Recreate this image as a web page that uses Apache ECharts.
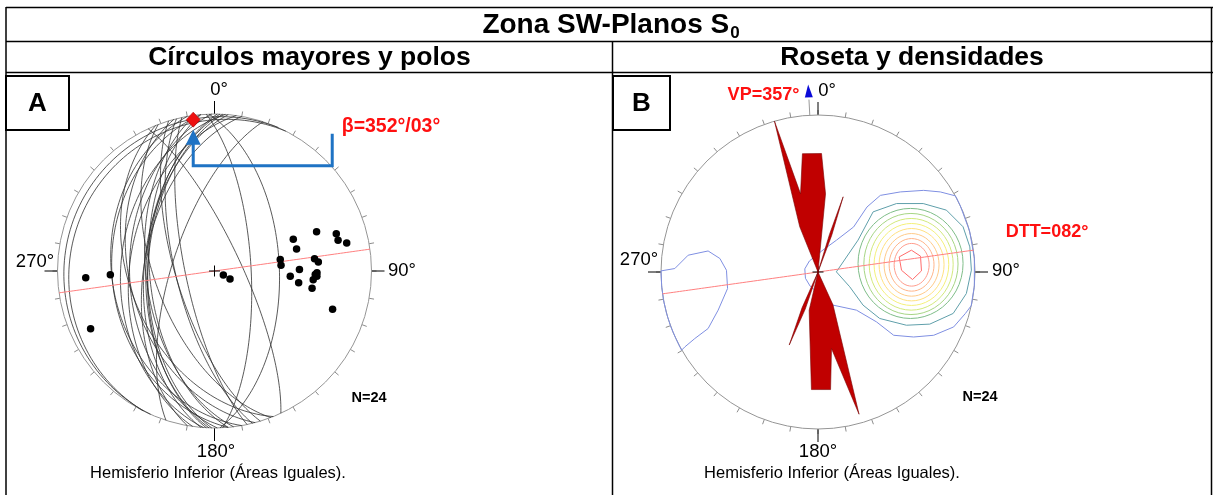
<!DOCTYPE html>
<html><head><meta charset="utf-8">
<script src="https://cdn.jsdelivr.net/npm/echarts@6/dist/echarts.min.js"></script>
<style>html,body{margin:0;padding:0;background:#fff}#c{width:1213px;height:495px}</style>
</head><body><div id="c"></div>
<script>
// ---- Data: S0 planes (dip direction / dip), read from the poles of net A ----
const DIP_DIR = [87, 88, 65, 294, 297, 260, 265, 248, 255, 249, 253, 256, 258, 263, 265, 269, 274, 278, 272, 273, 275, 280, 288, 271];
const DIP     = [71, 56, 76, 5, 9, 35, 35, 45, 45, 59, 70, 70, 75, 54, 56, 45, 40, 45, 54, 55, 53, 53, 68, 55];
const BETA_TREND = 352, BETA_PLUNGE = 3;
const DTT = 82;      // pi-girdle direction
const VP = 357;      // rose preferred direction
// Rose outline (azimuth, length in % of radius)
const ROSE_AZ  = [0, 338, 343.9, 347.4, 352.5, 361.7, 365.5, 0, 17, 18.5, 20.5, 0, 155.5, 163.9, 170, 173.9, 183.2, 193, 0, 199, 201.5, 204, 0];
const ROSE_LEN = [0, 31, 100, 51, 76, 75.5, 50, 0, 25, 50.5, 25, 0, 23, 94.3, 49.5, 75.3, 75, 25, 0, 25, 50, 25, 0];
// Density contours (projection coords, % of radius)
const HEX_X = [51.7, 59.5, 65.3, 65.9, 60.2, 53.2];
const HEX_Y = [9.6, 13.9, 10.1, 0.7, -4.8, 1.1];
const RING_L = [48.5, 45.3, 42.1, 38.9, 35.7, 32.6, 29.2, 25.5];
const RING_R = [70.8, 73.9, 77.1, 80.3, 83.3, 86.1, 89.2, 92.4];
const RING_T = [18.2, 21.3, 24.5, 27.7, 30.9, 34.1, 37.3, 40.5];
const RING_B = [-9.0, -12.2, -15.4, -18.4, -21.3, -24.3, -27.1, -29.6];
const RING_COLORS = ['#ff9c8c','#ffb489','#ffca88','#ffe080','#f4f07a','#d2e97c','#a6d584','#7fbd88'];
const TEAL_X = [11.7, 25.5, 35.1, 50.0, 67.0, 81.8, 92.4, 96.7, 97.7, 94.5, 86.1, 71.2, 56.3, 39.3, 28.7, 20.2];
const TEAL_Y = [0.1, 20.3, 38.3, 43.6, 43.6, 39.4, 28.8, 16.0, 1.2, -13.7, -26.4, -33.2, -33.9, -29.6, -21.1, -9.4];
const BLUE_E_X = [87.5, 77.9, 67.3, 52.4, 39.7, 31.2, 22.7, 11.8, 2.5, -5.5, -8.4, -8, -5, 2, 9.6, 24.5, 37.3, 48.2, 60.9, 73.7, 86.4, 93.8, 97.6, 99.6, 99.6, 96.6, 90.6, 87.5];
const BLUE_E_Y = [48.5, 51.0, 52.0, 51.0, 48.8, 41.4, 28.7, 20.3, 13.5, 7.0, 2.0, -4, -9, -15, -21.1, -24.3, -31.8, -40.3, -41.4, -40.3, -35.0, -26.5, -21.5, -8.7, 8.7, 25.9, 42.3, 48.5];
const BLUE_W_X = [-100, -91.2, -82.7, -70, -62.5, -58.3, -57.6, -63.6, -70, -78.5, -84.8, -86.9, -90.6, -94, -96.6, -98.5, -99.6, -100];
const BLUE_W_Y = [0.7, 2.2, 10.7, 13.4, 8.6, 1.1, -10.5, -24.3, -36, -42.4, -47.7, -49.8, -42.3, -34.2, -25.9, -17.4, -8.7, 0.7];
const TICK_LABELS = ['0°', '90°', '180°', '270°'];

// ---- helpers ----
const D2R = Math.PI / 180;
function proj(trend, plunge) { // lower hemisphere, equal area, % of radius
  const r = 100 * Math.SQRT2 * Math.sin((90 - plunge) / 2 * D2R);
  return [r * Math.sin(trend * D2R), r * Math.cos(trend * D2R)];
}
function polarXY(az, len) { return [len * Math.sin(az * D2R), len * Math.cos(az * D2R)]; }
function greatCircle(dd, dip) {
  const s = (dd - 90) * D2R, d = dip * D2R, a = dd * D2R;
  const S = [Math.sin(s), Math.cos(s), 0];
  const Dv = [Math.cos(d) * Math.sin(a), Math.cos(d) * Math.cos(a), Math.sin(d)];
  const pts = [];
  for (let f = 0; f <= 180; f += 2) {
    const c = Math.cos(f * D2R), sn = Math.sin(f * D2R);
    const v = [c * S[0] + sn * Dv[0], c * S[1] + sn * Dv[1], Math.min(1, c * S[2] + sn * Dv[2])];
    const pl = Math.asin(v[2]) / D2R;
    const tr = Math.atan2(v[0], v[1]) / D2R;
    pts.push(proj(tr, pl));
  }
  return pts;
}
const zip = (xs, ys) => xs.map((x, i) => [x, ys[i]]);

const FONT = '"Liberation Sans", Arial, sans-serif';
const CA = [214.5, 271], CB = [818, 272], RAD = 157;
const HALF = 130 * RAD / 100;

const chart = echarts.init(document.getElementById('c'), null, {renderer: 'canvas'});

function angleAxes(pi) {
  return [
    {polarIndex: pi, type: 'value', min: 0, max: 360, interval: 10, startAngle: 90, clockwise: true,
     axisLine: {show: true, lineStyle: {color: '#959595', width: 1}},
     axisTick: {show: true, length: 5, lineStyle: {color: '#8c8c8c', width: 1}},
     axisLabel: {show: false}, splitLine: {show: false}},
    {polarIndex: pi + 1, type: 'value', min: 0, max: 360, interval: 90, startAngle: 90, clockwise: true,
     axisLine: {show: false},
     axisTick: {show: true, length: 13, lineStyle: {color: '#000', width: 1}},
     axisLabel: {show: false}, splitLine: {show: false}}
  ];
}

const series = [];
// Net A: great circles
DIP_DIR.forEach((dd, i) => {
  series.push({type: 'line', xAxisIndex: 0, yAxisIndex: 0, data: greatCircle(dd, DIP[i]),
    showSymbol: false, silent: true, clip: false, z: 3,
    lineStyle: {color: '#2e2e2e', width: 0.8, opacity: 1}});
});
// pi girdle in A and B
[0, 1].forEach(g => series.push({type: 'line', xAxisIndex: g, yAxisIndex: g, data: greatCircle(DTT + 90, 90),
  showSymbol: false, silent: true, clip: false, z: 4, lineStyle: {color: '#ff7f7f', width: 1}}));
// poles
series.push({type: 'scatter', xAxisIndex: 0, yAxisIndex: 0, symbolSize: 7.5, z: 5, clip: false,
  itemStyle: {color: '#000', opacity: 1}, data: DIP_DIR.map((dd, i) => proj(dd + 180, 90 - DIP[i]))});
// center crosses
[0, 1].forEach(g => series.push({type: 'scatter', xAxisIndex: g, yAxisIndex: g, z: 4,
  symbol: 'path://M0,5L10,5M5,0L5,10', symbolSize: 11,
  itemStyle: {color: 'none', borderColor: '#000', borderWidth: 1, opacity: 1}, data: [[0, 0]]}));
// beta
series.push({type: 'scatter', xAxisIndex: 0, yAxisIndex: 0, symbol: 'diamond', symbolSize: [14, 15], z: 8, clip: false,
  itemStyle: {color: '#ee1111', borderColor: '#a00', borderWidth: 0.6, opacity: 1}, data: [proj(BETA_TREND, BETA_PLUNGE)]});

// Net B: contours
series.push({type: 'custom', xAxisIndex: 1, yAxisIndex: 1, z: 3, silent: true,
  data: RING_L.map((l, i) => [l, RING_R[i], RING_T[i], RING_B[i]]),
  renderItem: (p, api) => {
    const L = api.value(0), R = api.value(1), T = api.value(2), B = api.value(3);
    const cx = (L + R) / 2, cy = (T + B) / 2, a = (R - L) / 2, b = (T - B) / 2;
    const pts = [];
    for (let k = 0; k < 48; k++) { const t = k / 48 * 2 * Math.PI; pts.push(api.coord([cx + a * Math.cos(t), cy + b * Math.sin(t)])); }
    return {type: 'polygon', shape: {points: pts}, style: {fill: 'none', stroke: RING_COLORS[p.dataIndex], lineWidth: 1}};
  }});
const closed = (xs, ys) => { const d = zip(xs, ys); d.push(d[0]); return d; };
series.push({type: 'line', xAxisIndex: 1, yAxisIndex: 1, data: closed(HEX_X, HEX_Y), showSymbol: false, clip: false, z: 3,
  lineStyle: {color: '#ff6b6b', width: 1}});
series.push({type: 'line', xAxisIndex: 1, yAxisIndex: 1, data: closed(TEAL_X, TEAL_Y), showSymbol: false, clip: false, z: 3,
  lineStyle: {color: '#5f9faa', width: 1}});
series.push({type: 'line', xAxisIndex: 1, yAxisIndex: 1, data: zip(BLUE_E_X, BLUE_E_Y), showSymbol: false, clip: false, z: 3,
  lineStyle: {color: '#7f8fe2', width: 1}});
series.push({type: 'line', xAxisIndex: 1, yAxisIndex: 1, data: zip(BLUE_W_X, BLUE_W_Y), showSymbol: false, clip: false, z: 3,
  lineStyle: {color: '#7f8fe2', width: 1}});
// rose
series.push({type: 'custom', xAxisIndex: 1, yAxisIndex: 1, z: 6, silent: true, data: [[0, 0]],
  renderItem: (p, api) => ({type: 'polygon',
    shape: {points: ROSE_AZ.map((az, i) => api.coord(polarXY(az, ROSE_LEN[i])))},
    style: {fill: '#c00000', stroke: '#7a0000', lineWidth: 0.6}})});
// VP arrow
series.push({type: 'line', xAxisIndex: 1, yAxisIndex: 1, data: [polarXY(VP, 100), polarXY(VP, 110)], showSymbol: false, clip: false, z: 6,
  lineStyle: {color: '#999', width: 1}});
series.push({type: 'scatter', xAxisIndex: 1, yAxisIndex: 1, symbol: 'triangle', symbolSize: [8, 13], symbolRotate: 360 - VP, clip: false, z: 7,
  itemStyle: {color: '#0a0ad8', opacity: 1}, data: [polarXY(VP, 115.5)]});

function txt(x, y, text, font, fill, align) {
  return {type: 'text', z: 20, style: {x, y, text, font, fill: fill || '#000', align: align || 'center', verticalAlign: 'middle'}};
}
const graphic = [];
// table lines
const line = (x1, y1, x2, y2, w) => ({type: 'line', z: 20, shape: {x1, y1, x2, y2}, style: {stroke: '#000', lineWidth: w || 1.5}});
graphic.push(line(6, 7.5, 1213, 7.5), line(6, 41.5, 1213, 41.5), line(6, 72.5, 1213, 72.5),
  line(6, 7, 6, 495), line(1211.5, 7, 1211.5, 495), line(612.5, 41.5, 612.5, 495));
// headers
graphic.push({type: 'text', z: 20, style: {x: 611, y: 25, align: 'center', verticalAlign: 'middle',
  text: '{a|Zona SW-Planos S}{b|0}',
  rich: {a: {font: 'bold 28px ' + FONT, fill: '#000', verticalAlign: 'bottom'},
         b: {font: 'bold 17px ' + FONT, fill: '#000', verticalAlign: 'bottom', padding: [0, 0, -3, 1]}}}});
graphic.push(txt(309.5, 57.5, 'Círculos mayores y polos', 'bold 26.5px ' + FONT));
graphic.push(txt(912, 57.5, 'Roseta y densidades', 'bold 26.5px ' + FONT));
// letter boxes
graphic.push({type: 'rect', z: 20, shape: {x: 6, y: 76, width: 63, height: 54}, style: {fill: '#fff', stroke: '#000', lineWidth: 2}});
graphic.push(txt(37.5, 104, 'A', 'bold 26px ' + FONT));
graphic.push({type: 'rect', z: 20, shape: {x: 613, y: 76, width: 57, height: 54}, style: {fill: '#fff', stroke: '#000', lineWidth: 2}});
graphic.push(txt(641.5, 104, 'B', 'bold 26px ' + FONT));
// direction labels
const LAB_A = [[219, 90], [402, 271], [216, 452], [35, 262]];
const LAB_B = [[827, 91], [1006, 271], [818, 452], [639, 260]];
TICK_LABELS.forEach((t, i) => {
  graphic.push(txt(LAB_A[i][0], LAB_A[i][1], t, '18.5px ' + FONT));
  graphic.push(txt(LAB_B[i][0], LAB_B[i][1], t, '18.5px ' + FONT));
});
graphic.push(txt(369, 398, 'N=24', 'bold 14.5px ' + FONT));
graphic.push(txt(980, 397, 'N=24', 'bold 14.5px ' + FONT));
graphic.push(txt(218, 473, 'Hemisferio Inferior (Áreas Iguales).', '16.5px ' + FONT));
graphic.push(txt(832, 473, 'Hemisferio Inferior (Áreas Iguales).', '16.5px ' + FONT));
graphic.push(txt(391, 127, 'β=352°/03°', 'bold 19.5px ' + FONT, '#ff1010'));
graphic.push(txt(763.5, 95, 'VP=357°', 'bold 18px ' + FONT, '#ff1010'));
graphic.push(txt(1047, 232, 'DTT=082°', 'bold 18px ' + FONT, '#ff1010'));

chart.setOption({
  animation: false,
  polar: [{center: CA, radius: RAD}, {center: CA, radius: RAD}, {center: CB, radius: RAD}, {center: CB, radius: RAD}],
  angleAxis: [...angleAxes(0), ...angleAxes(2)],
  radiusAxis: [0, 1, 2, 3].map(i => ({polarIndex: i, type: 'value', min: 0, max: 1, show: false})),
  grid: [{left: CA[0] - HALF, top: CA[1] - HALF, width: 2 * HALF, height: 2 * HALF},
         {left: CB[0] - HALF, top: CB[1] - HALF, width: 2 * HALF, height: 2 * HALF}],
  xAxis: [0, 1].map(g => ({gridIndex: g, type: 'value', min: -130, max: 130, show: false})),
  yAxis: [0, 1].map(g => ({gridIndex: g, type: 'value', min: -130, max: 130, show: false})),
  series,
  graphic
});
// beta annotation bracket, anchored to the beta point
const bp = chart.convertToPixel({gridIndex: 0}, proj(BETA_TREND, BETA_PLUNGE));
const bx = bp[0], by = bp[1];
chart.setOption({graphic: graphic.concat([
  {type: 'polyline', z: 21, shape: {points: [[bx, by + 22], [bx, by + 46], [bx + 139, by + 46], [bx + 139, by + 14]]},
   style: {stroke: '#1f73c4', lineWidth: 3, fill: null}},
  {type: 'polygon', z: 21, shape: {points: [[bx, by + 10], [bx - 7.5, by + 25], [bx + 7.5, by + 25]]}, style: {fill: '#1f73c4'}}
])});
</script></body></html>
